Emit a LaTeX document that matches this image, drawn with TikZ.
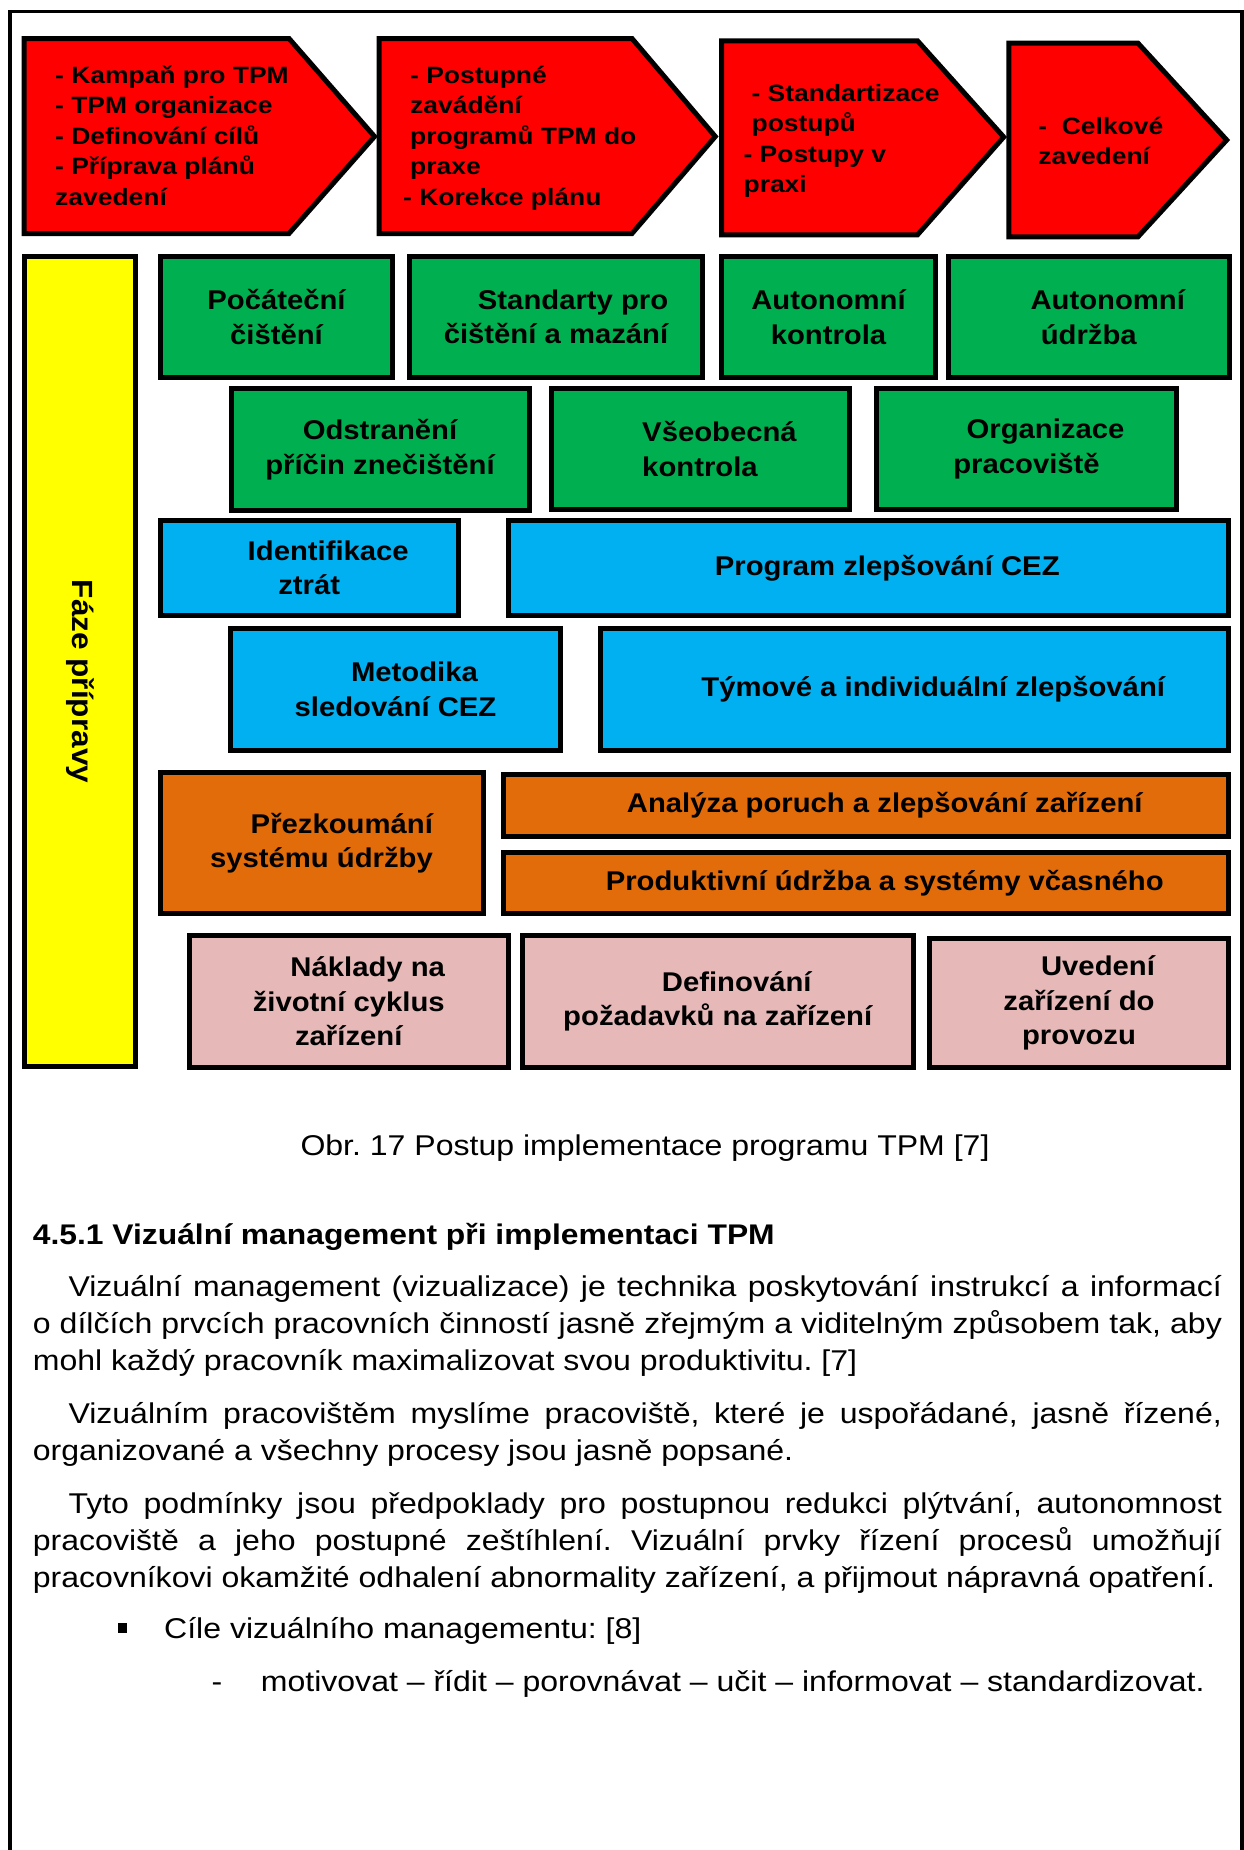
\documentclass[tikz,border=0pt]{standalone}
\usepackage{fontspec}
\setmainfont{Liberation Sans}
\newfontfamily\bodyfont[FakeStretch=1.12]{Liberation Sans}
\newfontfamily\boxfontfam[FakeStretch=1.08]{Liberation Sans}
\frenchspacing
\definecolor{tpmred}{RGB}{255,0,0}
\definecolor{tpmgreen}{RGB}{0,176,80}
\definecolor{tpmblue}{RGB}{0,176,240}
\definecolor{tpmorange}{RGB}{226,107,10}
\definecolor{tpmpink}{RGB}{230,185,184}
\definecolor{tpmyellow}{RGB}{255,255,0}
\newcommand\tpmsh{\hspace*{38pt}}
\newcommand\tpmbox[8][]{\node[box,fill=#3,minimum width={#6-#4-5},minimum height={#7-#5-5},#1] (#2) at ({(#4+#6)/2},{(#5+#7)/2}) {#8};}
\tikzset{
  box/.style={draw=black, line width=5pt, inner sep=0pt, outer sep=0pt, align=center,
    font=\boxfontfam\bfseries\fontsize{27.1}{34.5}\selectfont},
  pent/.style={draw=black, line width=5pt, fill=tpmred, line join=miter},
  redtxt/.style={anchor=base west, inner sep=0pt, align=left,
    font=\bodyfont\bfseries\fontsize{23.6}{30.5}\selectfont},
  ytxt/.style={inner sep=0pt, rotate=-90, font=\boxfontfam\bfseries\fontsize{29.2}{34}\selectfont},
  body/.style={anchor=base west, inner sep=0pt, align=left,
    font=\bodyfont\frenchspacing\fontsize{28.6}{37}\selectfont},
  frame/.style={draw=black, line width=3.3pt},
}
\begin{document}
\begin{tikzpicture}[x=1pt,y=-1pt]
\useasboundingbox (0,0) rectangle (1244,1850);
\fill[white] (0,0) rectangle (1244,1850);
% page frame
\draw[frame] (10,1850) -- (10,11.7) -- (1242,11.7) -- (1242,1850);
% red phases
\draw[pent] (24,38.5) -- (289,38.5) -- (374.5,136.5) -- (289,233.5) -- (24,233.5) -- cycle;
\draw[pent] (379.2,38.5) -- (632,38.5) -- (715.3,136.5) -- (632,233.5) -- (379.2,233.5) -- cycle;
\draw[pent] (721.5,40.8) -- (917.5,40.8) -- (1003.7,137) -- (917.5,234.8) -- (721.5,234.8) -- cycle;
\draw[pent] (1008.8,43.2) -- (1138,43.2) -- (1226.7,140) -- (1138,236.8) -- (1008.8,236.8) -- cycle;
% (anchor = baseline of the last line)
\node[redtxt] (p1t) at (55,205.3) {- Kampaň pro TPM\\- TPM organizace\\- Definování cílů\\- Příprava plánů\\zavedení};
\node[redtxt] (p2t) at (403,205.3) {\hspace*{7pt}- Postupné\\\hspace*{7pt}zavádění\\\hspace*{7pt}programů TPM do\\\hspace*{7pt}praxe\\- Korekce plánu};
\node[redtxt] (p3t) at (743.4,192.5) {\hspace*{8pt}- Standartizace\\\hspace*{8pt}postupů\\- Postupy v\\praxi};
\node[redtxt] (p4t) at (1038.2,164.7) {-\ \ Celkové\\zavedení};
% yellow bar
\tpmbox{yb}{tpmyellow}{22}{254}{138}{1069}{}
\node[ytxt] (ybt) at (80,681.5) {Fáze přípravy};
% green
\tpmbox{g1}{tpmgreen}{158}{254}{395}{380}{Počáteční\\čištění}
\tpmbox[align=right]{g2}{tpmgreen}{407}{254}{705}{380}{Standarty pro\\čištění a mazání}
\tpmbox{g3}{tpmgreen}{719}{254}{938}{380}{Autonomní\\kontrola}
\tpmbox{g4}{tpmgreen}{946}{254}{1231.5}{380}{\tpmsh Autonomní\\údržba}
\tpmbox{g5}{tpmgreen}{228.5}{386}{531.5}{513}{Odstranění\\příčin znečištění}
\tpmbox[align=left]{g6}{tpmgreen}{549}{386}{852}{512}{\tpmsh Všeobecná\\\tpmsh kontrola}
\tpmbox{g7}{tpmgreen}{874}{386}{1179}{512}{\tpmsh Organizace\\pracoviště}
% blue
\tpmbox{b1}{tpmblue}{158}{518}{460.5}{618}{\tpmsh Identifikace\\ztrát}
\tpmbox{b2}{tpmblue}{506}{518}{1230.5}{618}{\tpmsh Program zlepšování CEZ}
\tpmbox{b3}{tpmblue}{228}{626}{563}{752.5}{\tpmsh Metodika\\sledování CEZ}
\tpmbox{b4}{tpmblue}{598}{626}{1230.5}{752.5}{\tpmsh Týmové a individuální zlepšování}
% orange
\tpmbox[align=right]{o1}{tpmorange}{157.5}{770}{485.5}{916}{Přezkoumání\\systému údržby}
\tpmbox{o2}{tpmorange}{500.5}{772}{1231}{839}{\tpmsh Analýza poruch a zlepšování zařízení}
\tpmbox{o3}{tpmorange}{500.5}{850}{1231}{916}{\tpmsh Produktivní údržba a systémy včasného}
% pink
\tpmbox{k1}{tpmpink}{187}{933}{510.5}{1070}{\tpmsh Náklady na\\životní cyklus\\zařízení}
\tpmbox{k2}{tpmpink}{520}{933}{915.5}{1070}{\tpmsh Definování\\požadavků na zařízení}
\tpmbox{k3}{tpmpink}{927}{936}{1231}{1070}{\tpmsh Uvedení\\zařízení do\\provozu}
% text below
\node[body, anchor=base] (cap) at (645,1155) {Obr. 17 Postup implementace programu TPM [7]};
\node[body, font=\bodyfont\bfseries\frenchspacing\fontsize{28.4}{37}\selectfont] (head) at (32.7,1244) {4.5.1 Vizuální management při implementaci TPM};
\node[body] (par1) at (32.7,1370) {\hspace*{35.6pt}\makebox[1153.4pt][s]{Vizuální management (vizualizace) je technika poskytování instrukcí a informací}\\\makebox[1189pt][s]{o dílčích prvcích pracovních činností jasně zřejmým a viditelným způsobem tak, aby}\\mohl každý pracovník maximalizovat svou produktivitu. [7]};
\node[body] (par2) at (32.7,1460.3) {\hspace*{35.6pt}\makebox[1153.4pt][s]{Vizuálním pracovištěm myslíme pracoviště, které je uspořádané, jasně řízené,}\\organizované a všechny procesy jsou jasně popsané.};
\node[body] (par3) at (32.7,1587.3) {\hspace*{35.6pt}\makebox[1153.4pt][s]{Tyto podmínky jsou předpoklady pro postupnou redukci plýtvání, autonomnost}\\\makebox[1189pt][s]{pracoviště a jeho postupné zeštíhlení. Vizuální prvky řízení procesů umožňují}\\pracovníkovi okamžité odhalení abnormality zařízení, a přijmout nápravná opatření.};
\node[fill=black, inner sep=0pt, minimum width=9pt, minimum height=10pt] (bul) at (122.5,1628) {};
\node[body] (item1) at (164,1638.3) {Cíle vizuálního managementu: [8]};
\node[body] (dash) at (211.5,1691.7) {-};
\node[body] (item2) at (260.7,1691.7) {motivovat – řídit – porovnávat – učit – informovat – standardizovat.};
\end{tikzpicture}
\end{document}
